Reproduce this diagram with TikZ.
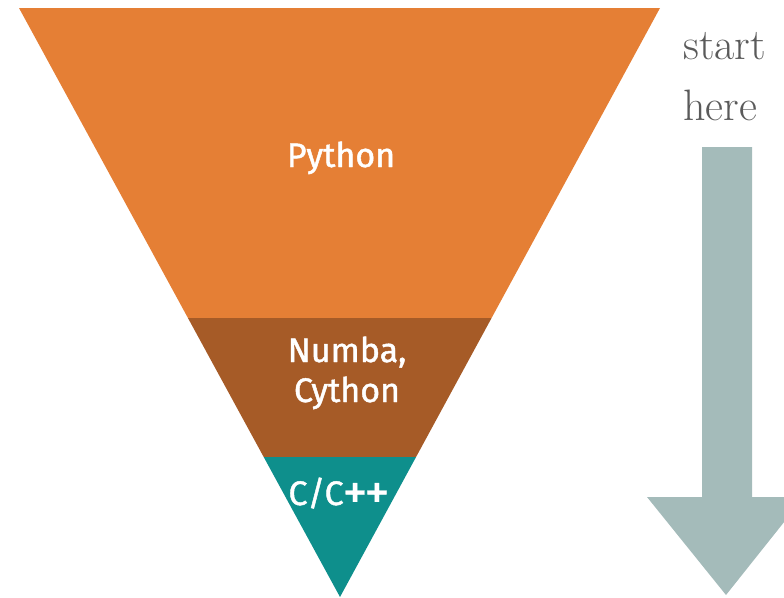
\documentclass[tikz,border=0pt]{standalone}
\usepackage{fontspec}
\newfontfamily\labelsans{Fira Sans}[FakeBold=1.3]
\newfontfamily\plusfont{Fira Sans}[FakeBold=0.6]
\definecolor{pyorange}{HTML}{E57F35}
\definecolor{nbbrown}{HTML}{A65B27}
\definecolor{cteal}{HTML}{0E8F8C}
\definecolor{arrgray}{HTML}{A4BBBA}
\definecolor{txtgray}{HTML}{5A5A5A}
\newcommand{\bigplus}{{\plusfont\fontsize{50}{50}\selectfont\raisebox{-4pt}{+}}}
\tikzset{
  layerlabel/.style={text=white, font=\labelsans\fontsize{34}{40}\selectfont, inner sep=0pt, anchor=base, align=center},
  sidelabel/.style={text=txtgray, font=\rmfamily\fontsize{44}{58}\selectfont, inner sep=0pt, anchor=base west}
}
\begin{document}
\begin{tikzpicture}[x=1pt,y=-1pt]
\useasboundingbox (0,0) rectangle (784,597);
\coordinate (tl) at (19,8);
\coordinate (tr) at (660,8);
\coordinate (ap) at (340,597);
\begin{scope}
  \clip (tl) -- (tr) -- (ap) -- cycle;
  \fill[pyorange] (0,0) rectangle (784,318);
  \fill[nbbrown] (0,318) rectangle (784,457);
  \fill[cteal] (0,457) rectangle (784,597);
\end{scope}
\node[layerlabel] (py) at (341,167) {Python};
\node[layerlabel] (nb) at (347,362) {Numba,};
\node[layerlabel] (cy) at (347,402) {Cython};
\node[layerlabel] (cc) at (339,505) {C/C\kern-1pt\bigplus\kern-3pt\bigplus};
\node[sidelabel] (st) at (683,59) {start};
\node[sidelabel] (he) at (683,120) {here};
\begin{scope}
  \clip (0,0) rectangle (784,597);
  \fill[arrgray] (702,147) -- (752,147) -- (752,497) -- (804,497) -- (726,595) -- (647,497) -- (702,497) -- cycle;
\end{scope}
\end{tikzpicture}
\end{document}
